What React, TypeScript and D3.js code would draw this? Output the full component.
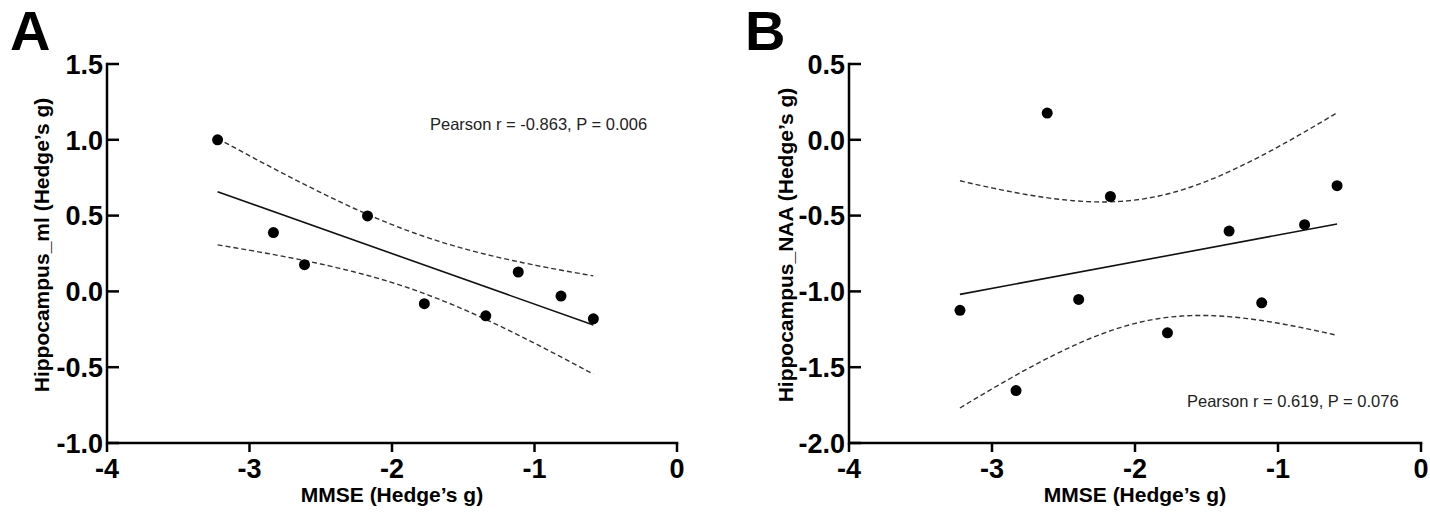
import React from "react";
import * as d3 from "d3";

// ---- Data ----
const mmseX = [-3.224, -2.832, -2.614, -2.394, -2.172, -1.773, -1.342, -1.114, -0.814, -0.587];
const hippoMl: (number | null)[] = [1.0, 0.388, 0.176, null, 0.498, -0.081, -0.161, 0.128, -0.031, -0.181];
const hippoNaa: (number | null)[] = [-1.125, -1.654, 0.176, -1.053, -0.374, -1.273, -0.602, -1.075, -0.56, -0.303];

const xTickValues = [-4, -3, -2, -1, 0];
const yTicksA = [-1.0, -0.5, 0.0, 0.5, 1.0, 1.5];
const yTicksB = [-2.0, -1.5, -1.0, -0.5, 0.0, 0.5];

const panelLetters = ["A", "B"];
const yTitles = ["Hippocampus_ml (Hedge\u2019s g)", "Hippocampus_NAA (Hedge\u2019s g)"];
const xTitle = "MMSE (Hedge\u2019s g)";
const pearsonTexts = ["Pearson r = -0.863, P = 0.006", "Pearson r = 0.619, P = 0.076"];

// two-sided 95% t critical values by degrees of freedom
const tCrit: Record<number, number> = { 7: 2.365, 8: 2.306 };

const FONT = "'Liberation Sans', Arial, Helvetica, sans-serif";

type PanelProps = {
  letter: string;
  ys: (number | null)[];
  yTicks: number[];
  yTitle: string;
  pearson: string;
  left: number;
  right: number;
  letterX: number;
  pearsonX: number;
  pearsonY: number;
  yTitleX: number;
};

function Panel(p: PanelProps) {
  const top = 64;
  const bottom = 443;
  const x = d3.scaleLinear().domain([-4, 0]).range([p.left, p.right]);
  const y = d3
    .scaleLinear()
    .domain([p.yTicks[0], p.yTicks[p.yTicks.length - 1]])
    .range([bottom, top]);

  const pts = mmseX
    .map((xv, i) => ({ x: xv, y: p.ys[i] }))
    .filter((d) => d.y !== null) as { x: number; y: number }[];

  // linear regression with 95% confidence band of the mean
  const n = pts.length;
  const mx = d3.mean(pts, (d) => d.x)!;
  const my = d3.mean(pts, (d) => d.y)!;
  const sxx = d3.sum(pts, (d) => (d.x - mx) ** 2);
  const sxy = d3.sum(pts, (d) => (d.x - mx) * (d.y - my));
  const syy = d3.sum(pts, (d) => (d.y - my) ** 2);
  const slope = sxy / sxx;
  const icpt = my - slope * mx;
  const s = Math.sqrt((syy - slope * sxy) / (n - 2));
  const t = tCrit[n - 2] ?? 2.3;
  const [x0, x1] = d3.extent(pts, (d) => d.x) as [number, number];
  const xs = d3.range(0, 81).map((k) => x0 + ((x1 - x0) * k) / 80);
  const fit = (xv: number) => icpt + slope * xv;
  const hw = (xv: number) => t * s * Math.sqrt(1 / n + (xv - mx) ** 2 / sxx);

  const line = d3
    .line<[number, number]>()
    .x((d) => x(d[0]))
    .y((d) => y(d[1]));

  const fitPath = line([
    [x0, fit(x0)],
    [x1, fit(x1)],
  ])!;
  const upper = line(xs.map((xv) => [xv, fit(xv) + hw(xv)] as [number, number]))!;
  const lower = line(xs.map((xv) => [xv, fit(xv) - hw(xv)] as [number, number]))!;

  const yMid = (top + bottom) / 2 + 24;

  return (
    <g>
      <text x={p.letterX} y={50} fontFamily={FONT} fontWeight="bold" fontSize={56} fill="#000">
        {p.letter}
      </text>

      {/* axes */}
      <path
        d={`M${p.left},${top}V${bottom}H${p.right}`}
        fill="none"
        stroke="#000"
        strokeWidth={2.5}
        strokeLinecap="square"
      />
      {p.yTicks.map((v) => (
        <g key={"y" + v}>
          <line x1={p.left} x2={p.left + 12} y1={y(v)} y2={y(v)} stroke="#000" strokeWidth={2.5} />
          <text
            x={p.left - 4}
            y={y(v)}
            dy="0.36em"
            textAnchor="end"
            fontFamily={FONT}
            fontWeight="bold"
            fontSize={27}
            fill="#000"
          >
            {v.toFixed(1)}
          </text>
        </g>
      ))}
      {xTickValues.map((v) => (
        <g key={"x" + v}>
          <line x1={x(v)} x2={x(v)} y1={bottom} y2={bottom + 9} stroke="#000" strokeWidth={2.5} />
          <text
            x={x(v)}
            y={478}
            textAnchor="middle"
            fontFamily={FONT}
            fontWeight="bold"
            fontSize={27}
            fill="#000"
          >
            {String(v)}
          </text>
        </g>
      ))}

      {/* titles */}
      <text
        x={(p.left + p.right) / 2}
        y={502}
        textAnchor="middle"
        fontFamily={FONT}
        fontWeight="bold"
        fontSize={21}
        fill="#000"
      >
        {xTitle}
      </text>
      <text
        transform={`translate(${p.yTitleX},${245}) rotate(-90)`}
        textAnchor="middle"
        dy="0.35em"
        fontFamily={FONT}
        fontWeight="bold"
        fontSize={21}
        fill="#000"
      >
        {p.yTitle}
      </text>

      {/* fit + CI */}
      <path d={upper} fill="none" stroke="#333" strokeWidth={1.4} strokeDasharray="5,3" />
      <path d={lower} fill="none" stroke="#333" strokeWidth={1.4} strokeDasharray="5,3" />
      <path d={fitPath} fill="none" stroke="#111" strokeWidth={1.6} />

      {pts.map((d, i) => (
        <circle key={i} cx={x(d.x)} cy={y(d.y)} r={5.5} fill="#000" />
      ))}

      <text x={p.pearsonX} y={p.pearsonY} fontFamily={FONT} fontSize={16.5} fill="#222">
        {p.pearson}
      </text>
      {yMid ? null : null}
    </g>
  );
}

export default function App() {
  return (
    <svg
      width={1430}
      height={515}
      style={{ position: "absolute", left: 0, top: 0, background: "#fff" }}
    >
      <rect width={1430} height={515} fill="#fff" />
      <Panel
        letter={panelLetters[0]}
        ys={hippoMl}
        yTicks={yTicksA}
        yTitle={yTitles[0]}
        pearson={pearsonTexts[0]}
        left={107}
        right={677}
        letterX={10}
        pearsonX={430}
        pearsonY={130}
        yTitleX={42}
      />
      <Panel
        letter={panelLetters[1]}
        ys={hippoNaa}
        yTicks={yTicksB}
        yTitle={yTitles[1]}
        pearson={pearsonTexts[1]}
        left={849}
        right={1421}
        letterX={745}
        pearsonX={1187}
        pearsonY={407}
        yTitleX={786}
      />
    </svg>
  );
}
